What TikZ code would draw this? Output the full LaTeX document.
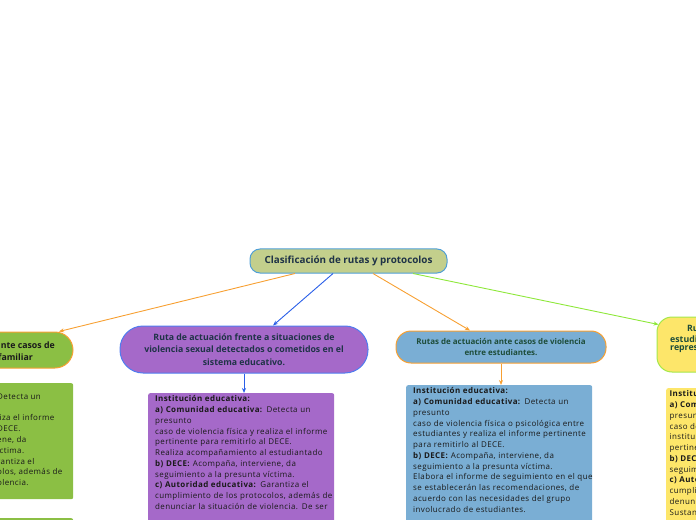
\documentclass[tikz,border=0pt]{standalone}
\usepackage{fontspec}
\setmainfont{Open Sans}
\usetikzlibrary{arrows.meta}
\definecolor{rootfill}{HTML}{C3CF8C}
\definecolor{rootline}{HTML}{4F9FD6}
\definecolor{purfill}{HTML}{A569C9}
\definecolor{purline}{HTML}{4F7CF0}
\definecolor{bluefill}{HTML}{7AAED4}
\definecolor{orange}{HTML}{F7A032}
\definecolor{grnfill}{HTML}{8BBF44}
\definecolor{yelfill}{HTML}{FDE66A}
\definecolor{yelline}{HTML}{A5E84A}
\definecolor{edgeblue}{HTML}{2A5FE8}
\definecolor{edgegreen}{HTML}{8EE83A}
\definecolor{darktxt}{HTML}{1F3347}
\definecolor{greentxt}{HTML}{1E4D3A}
\definecolor{bodytxt}{HTML}{1A1A1A}
\tikzset{
  topic/.style={draw, line width=1bp, inner sep=0pt, align=center, font=\bfseries},
  bodybox/.style={draw=none, inner sep=0pt, rounded corners=2bp, anchor=north west},
  bodytext/.style={inner sep=0pt, anchor=north west, align=left, text=bodytxt,
    font=\fontsize{8}{10.8}\selectfont\addfontfeature{LetterSpace=5}},
  fragtext/.style={inner sep=0pt, font=\bfseries\fontsize{8.8}{10}\selectfont},
  link/.style={line width=0.9bp, -{Stealth[length=5bp,width=4bp]}},
}
\begin{document}
\begin{tikzpicture}[x=1bp,y=-1bp]
\useasboundingbox (0,0) rectangle (696,520);
\clip (0,0) rectangle (696,520);

% main topic
\node[topic, fill=rootfill, draw=rootline, rounded corners=10bp,
  minimum width=197bp, minimum height=24bp, text=darktxt,
  font=\bfseries\fontsize{9.9}{11}\selectfont] (root) at (348.5,261)
  {Clasificación de rutas y protocolos};

% left (green) topic
\node[topic, fill=grnfill, draw=orange, rounded corners=18bp,
  minimum width=223bp, minimum height=36bp] (grn) at (-38.5,350) {};
\node[fragtext, anchor=east, text=bodytxt] (grnA) at (55,345) {nte casos de};
\node[fragtext, anchor=east, text=bodytxt] (grnB) at (33,357) {familiar};
\node[bodybox, fill=grnfill, minimum width=200bp, minimum height=116bp] (gb) at (-127,383) {};
\node[bodytext] (gbt) at (-3,388.5) {\mbox{}\\Detecta un\\\mbox{}\\liza el informe\\DECE.\\ene, da\\íctima.\\rantiza el\\olos, además de\\olencia.};
\node[bodybox, fill=grnfill, minimum width=200bp, minimum height=60bp] (gb2) at (-127,518) {};

% purple topic
\node[topic, fill=purfill, draw=purline, rounded corners=23bp,
  minimum width=248bp, minimum height=47bp, text=darktxt,
  font=\bfseries\fontsize{8.8}{12.5}\selectfont] (pur) at (244,349.5)
  {Ruta de actuación frente a situaciones de\\violencia sexual detectados o cometidos en el\\sistema educativo.};
\node[bodybox, fill=purfill, minimum width=186bp, minimum height=200bp] (pb) at (148,393) {};
\node[bodytext, text width=200bp] (pbt) at (155,395.5) {%
\textbf{Institución educativa:}\\
\textbf{a) Comunidad educativa:} Detecta un\\
presunto\\
caso de violencia física y realiza el informe\\
pertinente para remitirlo al DECE.\\
Realiza acompañamiento al estudiantado\\
\textbf{b) DECE:} Acompaña, interviene, da\\
seguimiento a la presunta víctima.\\
\textbf{c) Autoridad educativa:} Garantiza el\\
cumplimiento de los protocolos, además de\\
denunciar la situación de violencia. De ser};

% blue topic
\node[topic, fill=bluefill, draw=orange, rounded corners=15bp,
  minimum width=210bp, minimum height=32bp, text=greentxt,
  font=\bfseries\fontsize{8}{10.7}\selectfont] (blu) at (501,347)
  {Rutas de actuación ante casos de violencia\\entre estudiantes.};
\node[bodybox, fill=bluefill, minimum width=186bp, minimum height=200bp] (bb) at (406,385) {};
\node[bodytext, text width=200bp] (bbt) at (413,387.5) {%
\textbf{Institución educativa:}\\
\textbf{a) Comunidad educativa:} Detecta un\\
presunto\\
caso de violencia física o psicológica entre\\
estudiantes y realiza el informe pertinente\\
para remitirlo al DECE.\\
\textbf{b) DECE:} Acompaña, interviene, da\\
seguimiento a la presunta víctima.\\
Elabora el informe de seguimiento en el que\\
se establecerán las recomendaciones, de\\
acuerdo con las necesidades del grupo\\
involucrado de estudiantes.};

% yellow topic
\node[topic, fill=yelfill, draw=yelline, rounded corners=15bp,
  minimum width=200bp, minimum height=55bp] (yel) at (757,344.5) {};
\node[fragtext, anchor=west, text=greentxt] (yelA) at (687,328) {Ru};
\node[fragtext, anchor=west, text=greentxt] (yelB) at (670,339) {estudi};
\node[fragtext, anchor=west, text=greentxt] (yelC) at (670,349.5) {repres};
\node[bodybox, fill=yelfill, minimum width=186bp, minimum height=200bp] (yb) at (666,388) {};
\node[bodytext] (ybt) at (669.5,390.5) {%
\textbf{Institu}\\
\textbf{a) Com}\\
presun\\
caso de\\
instituc\\
pertine\\
\textbf{b) DECE}\\
seguim\\
\textbf{c) Auto}\\
cumplim\\
denunc\\
Sustanc};

% connectors
\draw[link, draw=orange] ([xshift=-53.5bp]root.south) -- ([xshift=97.5bp]grn.north);
\draw[link, draw=edgeblue] ([xshift=-15.5bp]root.south) -- ([xshift=29bp]pur.north);
\draw[link, draw=orange] ([xshift=24.5bp]root.south) -- ([xshift=-31bp]blu.north);
\draw[link, draw=edgegreen] ([xshift=64.5bp]root.south) -- ([xshift=2bp,yshift=20bp]yel.west);
\draw[link, draw=edgeblue] (pur.south) -- (pur.south |- pb.north);
\draw[link, draw=orange] (blu.south) -- (blu.south |- bb.north);
\end{tikzpicture}
\end{document}
